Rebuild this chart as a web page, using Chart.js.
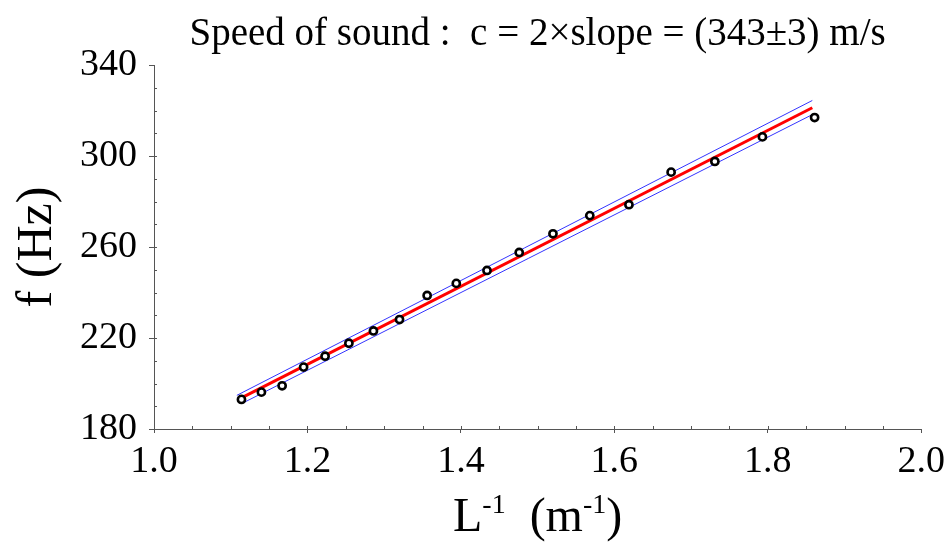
<!DOCTYPE html>
<html>
<head>
<meta charset="utf-8">
<script src="https://cdn.jsdelivr.net/npm/chart.js@4.4.1/dist/chart.umd.min.js"></script>
<style>
  html, body { margin: 0; padding: 0; background: #fff; }
  #wrap { width: 951px; height: 542px; }
</style>
</head>
<body>
<div id="wrap"><canvas id="mycanvas" width="951" height="542"></canvas></div>
<script>
// measured data : inverse length (1/m) and frequency (Hz)
var invL = [1.114, 1.140, 1.167, 1.195, 1.223, 1.254, 1.286, 1.320, 1.356, 1.394,
            1.434, 1.476, 1.520, 1.568, 1.619, 1.674, 1.731, 1.793, 1.861];
var freq = [193.0, 196.2, 199.0, 207.2, 212.0, 217.7, 223.1, 228.1, 238.7, 244.0,
            249.7, 257.6, 265.8, 273.8, 278.6, 292.9, 297.6, 308.4, 316.9];

// fit line and its error band (end points)
var fitX = [1.114, 1.858];
var fitY = [193.7, 321.2];
var upperX = [1.108, 1.858];
var upperY = [194.8, 324.4];
var lowerX = [1.118, 1.858];
var lowerY = [191.8, 318.2];

var xTicks = [1.0, 1.2, 1.4, 1.6, 1.8, 2.0];
var yTicks = [180, 220, 260, 300, 340];

var titleText = 'Speed of sound :  c = 2\u00d7slope = (343\u00b13) m/s';
var SERIF = '"Liberation Serif", "Times New Roman", serif';

function pts(xs, ys) {
  var out = [];
  for (var i in xs) out.push({x: xs[i], y: ys[i]});
  return out;
}

// small inward minor ticks + x axis title with superscripts
var extras = {
  id: 'extras',
  afterDraw: function(chart) {
    var ctx = chart.ctx;
    var xs = chart.scales.x, ys = chart.scales.y;
    var area = chart.chartArea;
    ctx.save();
    ctx.strokeStyle = '#555';
    ctx.lineWidth = 1;
    ctx.beginPath();
    for (var v = 190; v < 340; v += 10) {
      var py = Math.round(ys.getPixelForValue(v)) + 0.5;
      ctx.moveTo(area.left, py);
      ctx.lineTo(area.left + 3, py);
    }
    for (var k = 1; k < 20; k++) {
      var px = Math.round(xs.getPixelForValue(1 + k * 0.05)) + 0.5;
      ctx.moveTo(px, area.bottom);
      ctx.lineTo(px, area.bottom - 3);
    }
    ctx.stroke();

    // x axis title : L^-1 (m^-1)
    var big = '48px ' + SERIF, small = '28px ' + SERIF;
    var parts = [['L', big, 0], ['-1', small, -18], ['  (m', big, 0], ['-1', small, -18], [')', big, 0]];
    var total = 0;
    parts.forEach(function(p) { ctx.font = p[1]; total += ctx.measureText(p[0]).width; });
    var x = (area.left + area.right) / 2 - total / 2;
    var base = 531;
    ctx.fillStyle = '#000';
    ctx.textBaseline = 'alphabetic';
    ctx.textAlign = 'left';
    parts.forEach(function(p) {
      ctx.font = p[1];
      ctx.fillText(p[0], x, base + p[2]);
      x += ctx.measureText(p[0]).width;
    });
    ctx.restore();
  }
};

var ctx = document.getElementById('mycanvas');

var chart = new Chart(ctx, {
  type: 'scatter',
  data: {
    datasets: [
      {
        label: 'data',
        data: pts(invL, freq),
        pointStyle: 'circle',
        pointRadius: 3.6,
        pointBorderWidth: 2.6,
        pointBorderColor: '#000',
        pointBackgroundColor: '#fff',
        showLine: false
      },
      {
        label: 'fit',
        data: pts(fitX, fitY),
        showLine: true,
        borderColor: '#ff0000',
        borderWidth: 3,
        pointRadius: 0
      },
      {
        label: 'upper',
        data: pts(upperX, upperY),
        showLine: true,
        borderColor: 'rgba(30,30,255,0.9)',
        borderWidth: 1,
        pointRadius: 0
      },
      {
        label: 'lower',
        data: pts(lowerX, lowerY),
        showLine: true,
        borderColor: 'rgba(30,30,255,0.9)',
        borderWidth: 1,
        pointRadius: 0
      }
    ]
  },
  options: {
    responsive: false,
    animation: false,
    layout: { padding: { left: 0, right: 29, top: 0, bottom: 0 } },
    plugins: {
      legend: { display: false },
      tooltip: { enabled: false },
      title: {
        display: true,
        text: titleText,
        fullSize: false,
        color: '#000',
        font: { family: SERIF, size: 39, weight: 'normal', lineHeight: 1.2 },
        padding: { top: 11, bottom: 7.2 }
      }
    },
    scales: {
      x: {
        type: 'linear',
        min: 1.0,
        max: 2.0,
        afterFit: function(s) { s.height = 113; },
        afterBuildTicks: function(s) { s.ticks = xTicks.map(function(v) { return {value: v}; }); },
        grid: { display: true, drawOnChartArea: false, drawTicks: true, tickLength: 4, color: '#555' },
        border: { display: true, color: '#555', width: 1 },
        ticks: {
          color: '#000',
          padding: 6,
          maxRotation: 0,
          font: { family: SERIF, size: 38 },
          callback: function(v) { return v.toFixed(1); }
        },
        title: { display: false }
      },
      y: {
        type: 'linear',
        min: 180,
        max: 340,
        afterFit: function(s) { s.width = 154; },
        afterBuildTicks: function(s) { s.ticks = yTicks.map(function(v) { return {value: v}; }); },
        grid: { display: true, drawOnChartArea: false, drawTicks: true, tickLength: 5, color: '#555' },
        border: { display: true, color: '#555', width: 1 },
        ticks: {
          color: '#000',
          padding: 12,
          font: { family: SERIF, size: 38 }
        },
        title: {
          display: true,
          text: 'f (Hz)',
          color: '#000',
          font: { family: SERIF, size: 50, lineHeight: 1.2 },
          padding: { top: 8, bottom: 0 }
        }
      }
    }
  },
  plugins: [extras]
});
</script>
</body>
</html>
